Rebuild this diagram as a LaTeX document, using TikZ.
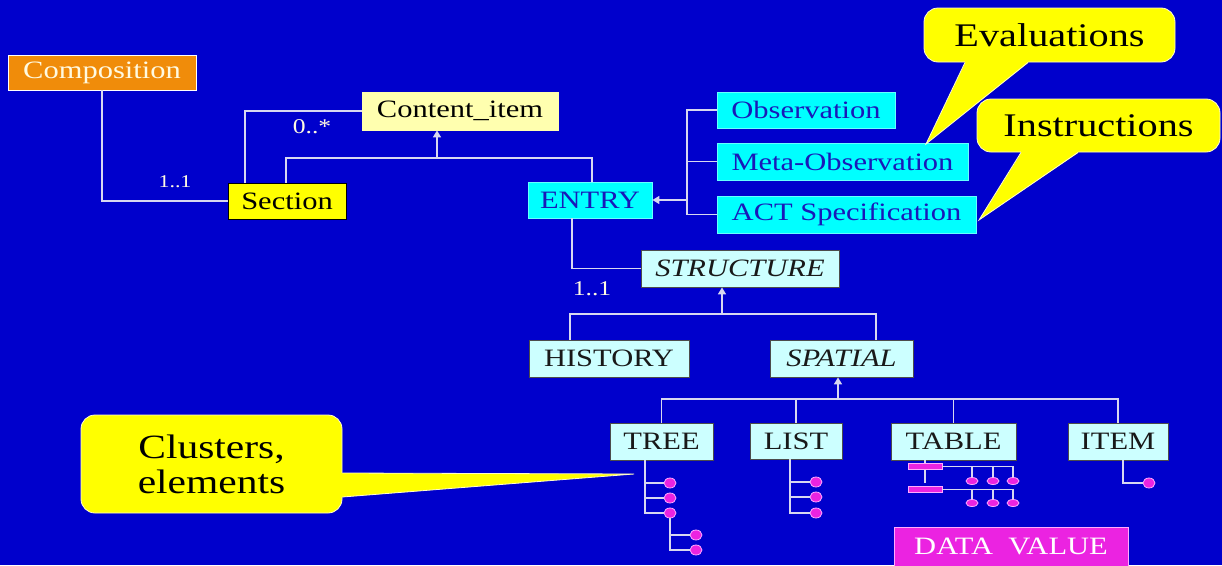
\documentclass[tikz,border=0pt]{standalone}
\usepackage{fontspec}
\setmainfont{Liberation Serif}
\usepackage{graphicx}
\usetikzlibrary{arrows.meta,shapes.geometric}
\definecolor{bg}{RGB}{0,0,204}
\definecolor{orng}{RGB}{240,140,10}
\definecolor{cream}{RGB}{255,250,225}
\definecolor{paleyel}{RGB}{255,255,175}
\definecolor{yel}{RGB}{255,255,0}
\definecolor{cyn}{RGB}{0,255,255}
\definecolor{lcyn}{RGB}{204,255,255}
\definecolor{dblue}{RGB}{25,25,185}
\definecolor{lnc}{RGB}{215,215,240}
\definecolor{mag}{RGB}{235,35,225}
\definecolor{magl}{RGB}{255,170,255}
\newcommand{\wtxt}[1]{\scalebox{1.22}[1]{#1}}
\newcommand{\fsz}[1]{\fontsize{#1}{#1}\selectfont}
\begin{document}
\begin{tikzpicture}[x=1pt,y=-1pt,
  box/.style={rectangle,inner sep=0pt,line width=0.8pt,font=\fsz{25}},
  wh/.style 2 args={minimum width=#1,minimum height=#2},
  cyanbox/.style={box,fill=cyn,draw=cyn!60!white,text=dblue},
  lcbox/.style={box,fill=lcyn,draw=black!70,text=black!90},
  lbl/.style={inner sep=0pt,text=cream},
  conn/.style={draw=lnc,line width=1.6pt},
  thinconn/.style={draw=lnc,line width=1.1pt},
  gen/.style={conn,-{Triangle[width=8pt,length=7pt]}},
  callbox/.style={rectangle,rounded corners=14pt,fill=yel,draw=white!80!yellow,line width=0.8pt,text=black,inner sep=0pt},
  calledge/.style={draw=white!80!yellow,line width=0.8pt},
  dot/.style={ellipse,inner sep=0pt,minimum width=12pt,minimum height=10pt,fill=mag,draw=magl,line width=0.8pt},
  flatdot/.style={dot,minimum height=7pt},
  bar/.style={rectangle,inner sep=0pt,minimum width=34pt,minimum height=6pt,fill=mag,draw=magl,line width=0.6pt}
]
\useasboundingbox (0,0) rectangle (1222,565);
\fill[bg] (0,0) rectangle (1222,565);

% ---- main nodes
\node[box,wh={188}{35},fill=orng,draw=white,text=cream] (comp) at (102,72.5) {\wtxt{Composition}};
\node[box,wh={196}{38},fill=paleyel,draw=paleyel,text=black] (ci) at (460,111) {\wtxt{Content\_item}};
\node[box,wh={118}{36},fill=yel,draw=black,text=black] (sec) at (287,201) {\wtxt{Section}};
\node[cyanbox,wh={124}{36}] (entry) at (590,200) {\wtxt{ENTRY}};
\node[cyanbox,wh={178}{36}] (obs) at (806,110) {\wtxt{Observation}};
\node[cyanbox,wh={251}{37}] (meta) at (842.5,161.5) {\wtxt{Meta-Observation}};
\node[cyanbox,wh={259}{37}] (act) at (846.5,214.5) {\wtxt{ACT Specification}};
\node[lcbox,wh={198}{37}] (struct) at (740,268.5) {\wtxt{\itshape STRUCTURE}};
\node[lcbox,wh={160}{37}] (hist) at (609,358.5) {\wtxt{HISTORY}};
\node[lcbox,wh={143}{37}] (spat) at (841.5,358.5) {\wtxt{\itshape SPATIAL}};
\node[lcbox,wh={103}{37}] (tree) at (661.5,441.5) {\wtxt{TREE}};
\node[lcbox,wh={92}{36}] (list) at (796,441) {\wtxt{LIST}};
\node[lcbox,wh={125}{37}] (table) at (953.5,441.5) {\wtxt{TABLE}};
\node[lcbox,wh={100}{37}] (item) at (1118,441.5) {\wtxt{ITEM}};
\node[box,wh={234}{39},fill=mag,draw=magl,text=white] (dv) at (1011,546.5) {\wtxt{DATA\ \ VALUE}};

% ---- multiplicity labels
\node[lbl,font=\fsz{18}] (m1) at (175,182) {\wtxt{1..1}};
\node[lbl,font=\fsz{21}] (m2) at (312,127) {\wtxt{0..*}};
\node[lbl,font=\fsz{21}] (m3) at (592,289) {\wtxt{1..1}};

% ---- connectors
\draw[conn] (comp.south) |- (sec.west);
\draw[conn] ([xshift=-42pt]sec.north) |- (ci.west);
\coordinate (g1) at (437,158);
\draw[conn] ([xshift=-1pt]sec.north) |- (g1) -| ([xshift=2pt]entry.north);
\draw[gen] (g1) -- (g1 |- ci.south);

\coordinate (s1) at (687,200);
\draw[conn] (obs.west) -- (obs.west -| s1) -- (act.west -| s1) -- (act.west);
\draw[conn] (meta.west -| s1) -- (meta.west);
\draw[gen] (s1) -- (entry.east);

\draw[conn] ([xshift=-18pt]entry.south) |- (struct.west);
\coordinate (g2) at (722,314);
\draw[conn] ([xshift=-39pt]hist.north) |- (g2) -| ([xshift=34.5pt]spat.north);
\draw[gen] (g2) -- (g2 |- struct.south);

\coordinate (g3) at (838,399);
\draw[conn] (tree.north) |- (g3) -| (item.north);
\draw[conn] (list.north) |- (g3);
\draw[conn] (table.north) |- (g3);
\draw[gen] (g3) -- (g3 |- spat.south);

% ---- TREE leaves
\node[dot] (t1) at (670,483) {};
\node[dot] (t2) at (670,498) {};
\node[dot] (t3) at (670,513) {};
\node[dot] (t4) at (696,535) {};
\node[dot] (t5) at (696,550) {};
\coordinate (tt) at (645,513);
\draw[thinconn] ([xshift=-16.5pt]tree.south) -- (tt) -- (t3.west);
\draw[thinconn] (t1.west -| tt) -- (t1.west);
\draw[thinconn] (t2.west -| tt) -- (t2.west);
\draw[thinconn] (t3.south) |- (t5.west);
\draw[thinconn] (t4.west -| t3.south) -- (t4.west);

% ---- LIST leaves
\node[dot] (l1) at (816,482) {};
\node[dot] (l2) at (816,497) {};
\node[dot] (l3) at (816,513) {};
\coordinate (lt) at (790,513);
\draw[thinconn] ([xshift=-6pt]list.south) -- (lt) -- (l3.west);
\draw[thinconn] (l1.west -| lt) -- (l1.west);
\draw[thinconn] (l2.west -| lt) -- (l2.west);

% ---- TABLE leaves
\draw[thinconn] ([xshift=-28.5pt]table.south) -- ++(0,23);
\node[bar] (b1) at (925,466.5) {};
\node[bar] (b2) at (925,489.5) {};
\node[flatdot] (a1) at (972,481) {};
\node[flatdot] (a2) at (993,481) {};
\node[flatdot] (a3) at (1013,481) {};
\node[flatdot] (c1) at (972,503) {};
\node[flatdot] (c2) at (993,503) {};
\node[flatdot] (c3) at (1013,503) {};
\draw[thinconn] (b1.east) -| (a3.north);
\draw[thinconn] (a1.north |- b1.east) -- (a1.north);
\draw[thinconn] (a2.north |- b1.east) -- (a2.north);
\draw[thinconn] (b2.east) -| (c3.north);
\draw[thinconn] (c1.north |- b2.east) -- (c1.north);
\draw[thinconn] (c2.north |- b2.east) -- (c2.north);

% ---- ITEM leaf
\node[dot] (i1) at (1149,483) {};
\draw[thinconn] ([xshift=5pt]item.south) |- (i1.west);

% ---- callouts
\node[callbox,wh={251}{54},font=\fsz{33}] (eval) at (1049.5,35) {\wtxt{Evaluations}};
\coordinate (evtip) at (926,144);
\fill[yel] ([xshift=-84.5pt,yshift=6pt]eval.south) -- ([xshift=-84.5pt,yshift=-0.5pt]eval.south) -- (evtip) -- ([xshift=-21.5pt,yshift=-0.5pt]eval.south) -- ([xshift=-21.5pt,yshift=6pt]eval.south) -- cycle;
\draw[calledge] ([xshift=-84.5pt]eval.south) -- (evtip) -- ([xshift=-21.5pt]eval.south);

\node[callbox,wh={243}{53},font=\fsz{33}] (instr) at (1098.5,125.5) {\wtxt{Instructions}};
\coordinate (intip) at (979,220);
\fill[yel] ([xshift=-77.5pt,yshift=6pt]instr.south) -- ([xshift=-77.5pt,yshift=-0.5pt]instr.south) -- (intip) -- ([xshift=-20.5pt,yshift=-0.5pt]instr.south) -- ([xshift=-20.5pt,yshift=6pt]instr.south) -- cycle;
\draw[calledge] ([xshift=-77.5pt]instr.south) -- (intip) -- ([xshift=-20.5pt]instr.south);

\node[callbox,wh={261}{98},font=\fsz{34},align=center] (clus) at (211.5,464) {\wtxt{Clusters,}\\[1pt]\wtxt{elements}};
\coordinate (cltip) at (634,474);
\fill[yel] ([xshift=-6pt,yshift=-9pt]clus.east) -- ([xshift=0.5pt,yshift=-9pt]clus.east) -- (cltip) -- ([xshift=0.5pt,yshift=-33pt]clus.east) -- ([xshift=-6pt,yshift=-33pt]clus.east) -- cycle;
\draw[calledge] ([yshift=-9pt]clus.east) -- (cltip) -- ([yshift=-33pt]clus.east);
\end{tikzpicture}
\end{document}
